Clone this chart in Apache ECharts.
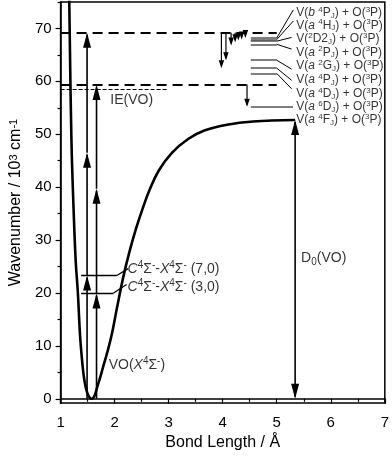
<!DOCTYPE html>
<html>
<head>
<meta charset="utf-8">
<script src="https://cdn.jsdelivr.net/npm/echarts@6/dist/echarts.min.js"></script>
<style>
  html, body { margin: 0; padding: 0; background: #fff; }
  #chart { width: 392px; height: 456px; }
</style>
</head>
<body>
<div id="chart"></div>
<script>
// VO(X4Σ-) potential curve: bond length (Å) / energy (10^3 cm-1)
const curveR = [1.16, 1.20, 1.24, 1.28, 1.32, 1.36, 1.40, 1.44, 1.49, 1.54, 1.58, 1.63, 1.68, 1.74, 1.80, 1.87,
  1.95, 2.04, 2.16, 2.28, 2.40, 2.52, 2.64, 2.82, 3.06, 3.36, 3.66, 4.08, 4.56, 5.34];
const curveV = [75.5, 49.3, 36, 26, 20, 12, 7, 3.5, 1.2, 0.2, 0, 0.6, 2.3, 4.3, 6.5, 9,
  12.3, 17, 23, 28, 32.3, 36, 39.3, 43.2, 46.5, 49.1, 50.7, 51.8, 52.4, 52.7];

const yMajorTicks = [0, 10, 20, 30, 40, 50, 60, 70];
const yMinorTicks = [5, 15, 25, 35, 45, 55, 65, 75];

// dashed thresholds [r from, r to, energy]
const thickDashes = [[1, 5.0, 69.2], [1, 5.0, 59.4]];
const ieDash = [[1, 2.97, 58.5]];

// photon arrows [r1, E1, r2, E2]
const photonArrows = [
  [1.49, 0, 1.49, 23.3], [1.49, 23.3, 1.49, 46.5], [1.49, 46.5, 1.49, 69.2],
  [1.665, 0, 1.665, 19.9], [1.665, 19.9, 1.665, 39.7], [1.665, 39.7, 1.665, 59.3],
  [5.34, 26.4, 5.34, 52.7], [5.34, 26.4, 5.34, 0]
];
const decayArrows = [
  [3.976, 69.2, 3.976, 62.5], [4.06, 69.2, 4.06, 64.0], [4.156, 69.2, 4.156, 66.8],
  [4.23, 69.2, 4.23, 67.4], [4.29, 69.2, 4.29, 67.7], [4.35, 69.2, 4.35, 67.9],
  [4.42, 69.2, 4.42, 68.2], [4.45, 59.4, 4.45, 55.2]
];

// C-X vibronic levels [r from, r to, energy]
const cLevels = [[1.38, 2.04, 23.3], [1.38, 1.98, 20.0]];
const cLinks = [[2.04, 23.3, 2.25, 24.6], [1.98, 20.0, 2.22, 21.6]];

// V + O asymptotes [r from, r to, energy]
const atomLevels = [
  [4.52, 5.0, 68.2], [4.52, 5.0, 67.9], [4.52, 5.0, 67.6], [4.52, 5.0, 67.0],
  [4.52, 5.0, 64.0], [4.52, 5.0, 62.5], [4.52, 5.0, 61.5], [4.52, 5.3, 55.2]
];
const atomLinks = [
  [5.0, 68.2, 5.306, 73.5], [5.0, 67.9, 5.306, 71.4], [5.0, 67.6, 5.275, 68.3],
  [5.0, 67.0, 5.275, 66.1], [5.0, 64.0, 5.275, 62.3], [5.0, 62.5, 5.275, 60.2],
  [5.0, 61.5, 5.275, 58.6]
];

const atomNames = [
  'V({i|b} {sup|4}P{sub|J}) + O({sup|3}P)',
  'V({i|a} {sup|4}H{sub|J}) + O({sup|3}P)',
  'V({sup|2}D2{sub|J}) + O({sup|3}P)',
  'V({i|a} {sup|2}P{sub|J}) + O({sup|3}P)',
  'V({i|a} {sup|2}G{sub|J}) + O({sup|3}P)',
  'V({i|a} {sup|4}P{sub|J}) + O({sup|3}P)',
  'V({i|a} {sup|4}D{sub|J}) + O({sup|3}P)',
  'V({i|a} {sup|6}D{sub|J}) + O({sup|3}P)',
  'V({i|a} {sup|4}F{sub|J}) + O({sup|3}P)'
];
const atomNameR = 5.36;
const atomNameV = [73.0, 70.6, 68.0, 65.5, 62.9, 60.3, 57.7, 55.2, 52.7];

const innerNames = [
  { text: '{i|C}{sup|4}Σ{sup|-}-{i|X}{sup|4}Σ{sup|-} (7,0)', r: 2.24, v: 24.5 },
  { text: '{i|C}{sup|4}Σ{sup|-}-{i|X}{sup|4}Σ{sup|-} (3,0)', r: 2.24, v: 21.1 },
  { text: 'VO({i|X}{sup|4}Σ{sup|-})', r: 1.89, v: 6.4 },
  { text: 'IE(VO)', r: 1.92, v: 56.4 },
  { text: 'D{sub|0}(VO)', r: 5.45, v: 26.5 }
];

const FONT = 'Liberation Sans, Arial, sans-serif';

function richSet(size) {
  const small = Math.round(size * 0.68);
  return {
    i: { fontStyle: 'italic', fontSize: size, fontFamily: FONT, color: '#000' },
    sup: { fontSize: small, lineHeight: small, verticalAlign: 'top', fontFamily: FONT, color: '#000' },
    sub: { fontSize: small, lineHeight: small, verticalAlign: 'bottom', fontFamily: FONT, color: '#000' }
  };
}

function arrowRenderer(headW, headL, lw) {
  return function (params, api) {
    const a = api.coord([api.value(0), api.value(1)]);
    const b = api.coord([api.value(2), api.value(3)]);
    const dx = b[0] - a[0], dy = b[1] - a[1];
    const len = Math.sqrt(dx * dx + dy * dy) || 1;
    const ux = dx / len, uy = dy / len;
    const bx = b[0] - ux * headL, by = b[1] - uy * headL;
    return {
      type: 'group',
      children: [
        { type: 'line', shape: { x1: a[0], y1: a[1], x2: b[0] - ux * 2, y2: b[1] - uy * 2 },
          style: { stroke: '#000', lineWidth: lw } },
        { type: 'polygon',
          shape: { points: [[b[0], b[1]], [bx - uy * headW / 2, by + ux * headW / 2], [bx + uy * headW / 2, by - ux * headW / 2]] },
          style: { fill: '#000' } }
      ]
    };
  };
}

const segs = rows => rows.map(s => ({ coords: [[s[0], s[2]], [s[1], s[2]]] }));
const links = rows => rows.map(s => ({ coords: [[s[0], s[1]], [s[2], s[3]]] }));

const chart = echarts.init(document.getElementById('chart'));

const option = {
  animation: false,
  textStyle: { fontFamily: FONT },
  grid: { left: 52, right: 6, top: 2, bottom: 48, show: true, borderColor: '#000', borderWidth: 1.5 },
  xAxis: {
    type: 'value', min: 1, max: 7, interval: 1,
    name: 'Bond Length / Å', nameLocation: 'middle', nameGap: 32,
    nameTextStyle: { fontSize: 16, color: '#000', fontFamily: FONT },
    axisLine: { lineStyle: { color: '#000', width: 1.5 } },
    axisTick: { length: 5, lineStyle: { color: '#000', width: 1.2 } },
    minorTick: { show: true, splitNumber: 2, length: 3, lineStyle: { color: '#000', width: 1.2 } },
    axisLabel: { fontSize: 15, color: '#000', margin: 12, fontFamily: FONT },
    splitLine: { show: false }
  },
  yAxis: [{
    type: 'value', min: -0.8, max: 75, position: 'left',
    name: 'Wavenumber / 10{sup|3} cm{sup|-1}', nameLocation: 'middle', nameGap: 29,
    nameTextStyle: { fontSize: 16, color: '#000', fontFamily: FONT, rich: richSet(16) },
    axisLine: { lineStyle: { color: '#000', width: 1.5 } },
    axisTick: { length: 5, customValues: yMajorTicks, lineStyle: { color: '#000', width: 1.2 } },
    axisLabel: { fontSize: 15, color: '#000', margin: 9, customValues: yMajorTicks, fontFamily: FONT },
    splitLine: { show: false }
  }, {
    type: 'value', min: -0.8, max: 75, position: 'left',
    axisLine: { show: false },
    axisTick: { length: 3, customValues: yMinorTicks, lineStyle: { color: '#000', width: 1.2 } },
    axisLabel: { show: false, customValues: yMinorTicks },
    splitLine: { show: false }
  }],
  series: [
    {
      type: 'line', smooth: 0.4, showSymbol: false, clip: true,
      data: curveR.map((r, k) => [r, curveV[k]]),
      lineStyle: { color: '#000', width: 2.6 }
    },
    {
      type: 'lines', coordinateSystem: 'cartesian2d', silent: true,
      data: segs(thickDashes),
      lineStyle: { color: '#000', width: 2, type: [10, 6], opacity: 1 }
    },
    {
      type: 'lines', coordinateSystem: 'cartesian2d', silent: true,
      data: segs(ieDash),
      lineStyle: { color: '#000', width: 1, type: [4, 2], opacity: 1 }
    },
    {
      type: 'lines', coordinateSystem: 'cartesian2d', silent: true,
      data: segs(cLevels).concat(links(cLinks)),
      lineStyle: { color: '#000', width: 1.3, opacity: 1 }
    },
    {
      type: 'lines', coordinateSystem: 'cartesian2d', silent: true,
      data: segs(atomLevels),
      lineStyle: { color: '#555', width: 1.5, opacity: 1 }
    },
    {
      type: 'lines', coordinateSystem: 'cartesian2d', silent: true,
      data: links(atomLinks),
      lineStyle: { color: '#000', width: 1, opacity: 1 }
    },
    {
      type: 'custom', renderItem: arrowRenderer(8, 15, 1.6),
      encode: { x: [0, 2], y: [1, 3] }, data: photonArrows
    },
    {
      type: 'custom', renderItem: arrowRenderer(5.5, 8, 1.2),
      encode: { x: [0, 2], y: [1, 3] }, data: decayArrows
    },
    {
      type: 'scatter', symbolSize: 0, silent: true,
      data: atomNames.map((t, k) => ({ value: [atomNameR, atomNameV[k]], name: t })),
      label: {
        show: true, position: 'right', distance: 0, color: '#000', fontSize: 12, lineHeight: 14,
        fontFamily: FONT, formatter: p => p.name, rich: richSet(12)
      }
    },
    {
      type: 'scatter', symbolSize: 0, silent: true,
      data: innerNames.map(d => ({ value: [d.r, d.v], name: d.text })),
      label: {
        show: true, position: 'right', distance: 0, color: '#000', fontSize: 14, lineHeight: 17,
        fontFamily: FONT, formatter: p => p.name, rich: richSet(14)
      }
    }
  ]
};

chart.setOption(option);
</script>
</body>
</html>
